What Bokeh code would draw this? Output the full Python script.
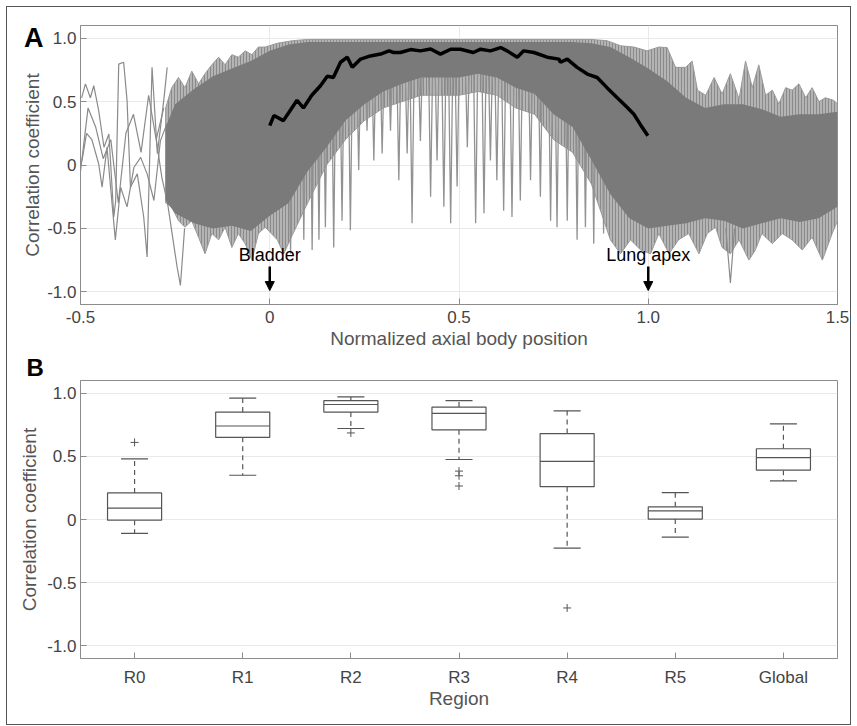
import numpy as np
from bokeh.plotting import figure
from bokeh.layouts import column
from bokeh.models import (Range1d, LinearAxis, Label, Arrow, NormalHead, FixedTicker,
                          ColumnDataSource, CustomJSTickFormatter, FactorRange)
from bokeh.transform import dodge
from bokeh.embed import file_html
from bokeh.resources import INLINE

FONT = "Liberation Sans"

# ---------------- Panel A data ----------------
env_x = [-0.275, -0.25, -0.2, -0.15, -0.1, -0.05, 0.0, 0.05, 0.1, 0.15, 0.2, 0.25, 0.3, 0.35, 0.4,
         0.45, 0.5, 0.55, 0.6, 0.65, 0.7, 0.75, 0.8, 0.85, 0.9, 0.95, 1.0, 1.05, 1.1, 1.15, 1.2,
         1.25, 1.3, 1.35, 1.4, 1.45, 1.5]
dense_top = [0.30, 0.48, 0.60, 0.70, 0.76, 0.82, 0.90, 0.95, 0.97, 0.97, 0.97, 0.97, 0.97, 0.97, 0.97,
             0.97, 0.97, 0.97, 0.97, 0.97, 0.97, 0.97, 0.97, 0.96, 0.93, 0.85, 0.76, 0.66, 0.53, 0.45,
             0.48, 0.48, 0.44, 0.38, 0.40, 0.40, 0.42]
dense_bot = [-0.28, -0.38, -0.46, -0.50, -0.48, -0.52, -0.40, -0.30, -0.05, 0.14, 0.35, 0.48, 0.58, 0.64, 0.69,
             0.69, 0.69, 0.72, 0.69, 0.61, 0.56, 0.40, 0.30, 0.04, -0.23, -0.42, -0.50, -0.48, -0.46, -0.42,
             -0.44, -0.50, -0.46, -0.42, -0.45, -0.42, -0.33]

fringe_top_x = [-0.275, -0.259, -0.241, -0.224, -0.206, -0.188, -0.171, -0.153, -0.135, -0.118, -0.10,
                -0.083, -0.065, -0.047, -0.03, -0.012, 0.02, 0.06, 0.1, 0.85, 0.891, 0.927, 0.962, 0.997,
                1.028, 1.05, 1.072, 1.099, 1.116, 1.13, 1.152, 1.174, 1.195, 1.217, 1.24, 1.257, 1.275,
                1.292, 1.31, 1.328, 1.345, 1.363, 1.38, 1.398, 1.416, 1.433, 1.451, 1.468, 1.49, 1.5]
fringe_top = [0.45, 0.61, 0.69, 0.61, 0.74, 0.64, 0.72, 0.79, 0.85, 0.79, 0.87, 0.85, 0.90, 0.87, 0.93,
              0.93, 0.96, 0.98, 0.99, 0.99, 0.98, 0.94, 0.93, 0.90, 0.93, 0.926, 0.77, 0.77, 0.82, 0.59,
              0.55, 0.69, 0.56, 0.72, 0.52, 0.82, 0.61, 0.79, 0.55, 0.59, 0.48, 0.61, 0.59, 0.64, 0.53,
              0.61, 0.50, 0.53, 0.51, 0.48]
fringe_bot_x = [-0.275, -0.259, -0.241, -0.224, -0.206, -0.188, -0.171, -0.153, -0.135, -0.118, -0.10,
                -0.083, -0.065, -0.047, -0.03, -0.012, 0.02, 0.037, 0.06, 0.1, 0.15, 0.2, 0.25, 0.3,
                0.35, 0.4, 0.45, 0.5, 0.55, 0.6, 0.65, 0.7, 0.75, 0.8, 0.85, 0.90, 0.927, 0.953, 0.98,
                1.006, 1.028, 1.055, 1.08, 1.107, 1.134, 1.156, 1.178, 1.195, 1.217, 1.24, 1.266, 1.283,
                1.30, 1.328, 1.354, 1.38, 1.407, 1.433, 1.46, 1.486, 1.5]
fringe_bot = [-0.30, -0.33, -0.44, -0.49, -0.44, -0.57, -0.70, -0.54, -0.59, -0.49, -0.65, -0.54, -0.62,
              -0.75, -0.54, -0.49, -0.59, -0.70, -0.55, -0.30, 0.0, 0.20, 0.35, 0.45, 0.50, 0.55, 0.55,
              0.55, 0.58, 0.55, 0.45, 0.40, 0.20, 0.10, -0.15, -0.59, -0.70, -0.59, -0.67, -0.70, -0.54,
              -0.70, -0.59, -0.54, -0.70, -0.54, -0.49, -0.65, -0.70, -0.59, -0.75, -0.67, -0.54, -0.62,
              -0.54, -0.59, -0.67, -0.57, -0.75, -0.54, -0.44]

spike_x = [0.055, 0.09, 0.112, 0.13, 0.147, 0.169, 0.191, 0.213, 0.235, 0.257, 0.275, 0.297, 0.319,
           0.341, 0.363, 0.376, 0.398, 0.425, 0.442, 0.46, 0.478, 0.495, 0.522, 0.544, 0.566, 0.583,
           0.60, 0.618, 0.64, 0.662, 0.689, 0.715, 0.742, 0.759, 0.786, 0.812, 0.834, 0.856, 0.882]
spike_bot = [-0.70, -0.59, -0.67, -0.59, -0.49, -0.65, -0.44, -0.515, -0.04, 0.27, 0.035, 0.09, 0.27,
             -0.12, 0.09, -0.46, 0.19, -0.25, 0.035, -0.33, -0.46, -0.17, 0.14, -0.46, -0.38, 0.035,
             -0.12, -0.36, -0.41, -0.28, -0.12, -0.25, -0.44, -0.49, -0.44, -0.59, -0.49, -0.62, -0.54]

sparse1_x = [-0.497, -0.487, -0.474, -0.465, -0.452, -0.438, -0.425, -0.412, -0.407, -0.399, -0.386,
             -0.377, -0.368, -0.35, -0.333, -0.324, -0.311, -0.297, -0.28, -0.271]
sparse1_y = [0.53, 0.64, 0.53, 0.625, 0.43, 0.14, 0.245, -0.41, -0.28, 0.795, 0.81, 0.51, -0.175,
             -0.07, -0.41, -0.725, 0.77, 0.09, 0.51, 0.77]
sparse2_x = [-0.496, -0.484, -0.47, -0.452, -0.443, -0.43, -0.408, -0.394, -0.377, -0.359, -0.341,
             -0.324, -0.306, -0.289, -0.271]
sparse2_y = [0.035, 0.25, 0.2, 0.01, -0.175, 0.14, -0.59, -0.175, -0.33, -0.02, 0.06, -0.07, -0.28,
             0.19, 0.33]
sparse3_x = [-0.30, -0.285, -0.27, -0.255, -0.245, -0.236, -0.225]
sparse3_y = [0.2, -0.1, -0.3, -0.6, -0.8, -0.95, -0.5]
sparse4_x = [-0.5, -0.48, -0.46, -0.44, -0.42, -0.40, -0.38, -0.36, -0.34, -0.32, -0.30, -0.28]
sparse4_y = [-0.05, 0.45, 0.30, 0.05, 0.20, -0.30, 0.25, 0.40, 0.10, 0.55, 0.20, 0.45]
sparse5_x = [1.205, 1.217, 1.228]
sparse5_y = [-0.50, -0.93, -0.50]

mean_x = [0.0, 0.011, 0.036, 0.054, 0.072, 0.089, 0.111, 0.134, 0.152, 0.168, 0.187, 0.205, 0.218,
          0.24, 0.266, 0.293, 0.315, 0.327, 0.345, 0.372, 0.398, 0.425, 0.451, 0.478, 0.504, 0.538,
          0.557, 0.583, 0.61, 0.627, 0.654, 0.671, 0.698, 0.733, 0.764, 0.768, 0.786, 0.812, 0.839,
          0.865, 0.891, 0.918, 0.944, 0.962, 0.979, 0.999]
mean_y = [0.31, 0.39, 0.35, 0.43, 0.51, 0.45, 0.55, 0.625, 0.70, 0.69, 0.81, 0.85, 0.77, 0.835, 0.86,
          0.875, 0.90, 0.887, 0.887, 0.91, 0.90, 0.915, 0.874, 0.913, 0.913, 0.887, 0.913, 0.90, 0.926,
          0.90, 0.85, 0.90, 0.887, 0.85, 0.835, 0.81, 0.835, 0.77, 0.717, 0.69, 0.61, 0.53, 0.455, 0.40,
          0.32, 0.23]

a_ticks = [-0.5, 0.0, 0.5, 1.0, 1.5]
y_ticks = [-1.0, -0.5, 0.0, 0.5, 1.0]
markers_x = [0.0, 1.0]
markers_txt = ["Bladder", "Lung apex"]

# ---------------- Panel B data ----------------
regions = ["R0", "R1", "R2", "R3", "R4", "R5", "Global"]
q1 = [-0.005, 0.65, 0.85, 0.71, 0.26, 0.003, 0.39]
med = [0.09, 0.74, 0.91, 0.84, 0.46, 0.068, 0.49]
q3 = [0.21, 0.85, 0.94, 0.89, 0.68, 0.10, 0.56]
wlo = [-0.11, 0.35, 0.72, 0.475, -0.226, -0.14, 0.305]
whi = [0.48, 0.96, 0.97, 0.94, 0.86, 0.213, 0.756]
out_region = ["R0", "R2", "R3", "R3", "R3", "R4"]
out_val = [0.61, 0.685, 0.383, 0.346, 0.265, -0.70]

GRID = "#e9e9e9"
AX = "#8c8c8c"
TXT = "#444444"
LBL = "#555555"
FW = 843

fmt = CustomJSTickFormatter(code="return Math.abs(tick) < 1e-9 ? '0' : tick.toFixed(1);")


def style_axes(p):
    for ax in p.axis:
        ax.axis_line_color = AX
        ax.major_tick_line_color = AX
        ax.major_tick_in = 6
        ax.major_tick_out = 0
        ax.minor_tick_line_color = None
        ax.major_label_text_font = FONT
        ax.major_label_text_font_size = "17px"
        ax.major_label_text_color = TXT
        ax.axis_label_text_font = FONT
        ax.axis_label_text_font_size = "19px"
        ax.axis_label_text_font_style = "normal"
        ax.axis_label_text_color = LBL
    p.outline_line_color = AX
    p.grid.grid_line_color = GRID


# ---------------- Panel A ----------------
p1 = figure(width=FW, height=344, x_range=Range1d(-0.5, 1.5), y_range=Range1d(-1.1, 1.1),
            output_backend="svg", toolbar_location=None,
            min_border_left=73, min_border_right=13, min_border_top=18, min_border_bottom=40)
p1.patch(x=fringe_top_x + fringe_bot_x[::-1], y=fringe_top + fringe_bot[::-1],
         fill_color="#b4b4b4", line_color="#9a9a9a", line_width=1,
         hatch_pattern="vertical_line", hatch_color="#8a8a8a", hatch_scale=3, hatch_weight=1)
p1.multi_line(xs=[[x - 0.006, x, x + 0.006] for x in spike_x],
              ys=[[0.9, b, 0.9] for b in spike_bot], line_color="#929292", line_width=1.3)
for sx, sy in [(sparse1_x, sparse1_y), (sparse2_x, sparse2_y), (sparse3_x, sparse3_y),
               (sparse4_x, sparse4_y), (sparse5_x, sparse5_y)]:
    p1.line(sx, sy, line_color="#8a8a8a", line_width=1.2)
p1.varea(x=env_x, y1=dense_bot, y2=dense_top, fill_color="#7a7a7a")
p1.line(mean_x, mean_y, line_color="black", line_width=3.5)

for mx, mt in zip(markers_x, markers_txt):
    p1.add_layout(Label(x=mx, y=-0.71, text=mt, text_align="center", text_baseline="middle",
                        text_font=FONT, text_font_size="18px", text_color="black"))
    p1.add_layout(Arrow(end=NormalHead(size=9, fill_color="black", line_color="black"),
                        x_start=mx, y_start=-0.80, x_end=mx, y_end=-0.99,
                        line_color="black", line_width=2.5))

p1.xaxis.ticker = a_ticks
p1.xaxis.formatter = fmt
p1.yaxis.ticker = y_ticks
p1.yaxis.formatter = fmt
p1.xaxis.axis_label = "Normalized axial body position"
p1.xaxis.major_label_standoff = 6
p1.xaxis.axis_label_standoff = 2
p1.yaxis.major_label_standoff = 4
# outer left axis carrying the panel letter and the axis title
la = LinearAxis(ticker=FixedTicker(ticks=[1.0]),
                formatter=CustomJSTickFormatter(code="return 'A';"),
                axis_label="Correlation coefficient")
p1.add_layout(la, "left")
style_axes(p1)
la.axis_line_color = None
la.major_tick_line_color = None
la.major_label_standoff = 1
la.major_label_text_font_size = "27px"
la.major_label_text_font_style = "bold"
la.major_label_text_color = "black"
la.axis_label_standoff = -22

# ---------------- Panel B ----------------
p2 = figure(width=FW, height=373, x_range=FactorRange(*regions), y_range=Range1d(-1.1, 1.1),
            output_backend="svg", toolbar_location=None, title="B",
            min_border_left=73, min_border_right=13, min_border_top=24, min_border_bottom=66)
p2.title.text_font = FONT
p2.title.text_font_size = "24px"
p2.title.text_font_style = "bold"
p2.title.text_color = "black"
p2.title.align = "left"
p2.title.offset = -54
p2.title.standoff = 0
src = ColumnDataSource(dict(region=regions, q1=q1, med=med, q3=q3, wlo=wlo, whi=whi))
BOX = "#555555"
p2.segment(x0="region", y0="q3", x1="region", y1="whi", source=src, line_color=BOX,
           line_width=1.2, line_dash="5 4")
p2.segment(x0="region", y0="q1", x1="region", y1="wlo", source=src, line_color=BOX,
           line_width=1.2, line_dash="5 4")
p2.vbar(x="region", width=0.5, bottom="q1", top="q3", source=src, fill_color="white",
        line_color=BOX, line_width=1.2)
p2.segment(x0=dodge("region", -0.25, range=p2.x_range), y0="med",
           x1=dodge("region", 0.25, range=p2.x_range), y1="med", source=src,
           line_color=BOX, line_width=1.2)
for col in ["whi", "wlo"]:
    p2.segment(x0=dodge("region", -0.125, range=p2.x_range), y0=col,
               x1=dodge("region", 0.125, range=p2.x_range), y1=col, source=src,
               line_color=BOX, line_width=1.2)
p2.scatter(x=out_region, y=out_val, marker="cross", size=8, line_color=BOX, line_width=1)

p2.yaxis.ticker = y_ticks
p2.yaxis.formatter = fmt
p2.xaxis.axis_label = "Region"
p2.yaxis.axis_label = "Correlation coefficient"
p2.xaxis.major_label_standoff = 9
p2.xaxis.axis_label_standoff = -2
p2.yaxis.major_label_standoff = 4
p2.yaxis.axis_label_standoff = 4
style_axes(p2)
p2.xgrid.grid_line_color = None

layout = column(p1, p2, spacing=0, styles={"border": "1px solid #555555", "margin": "6px 0 0 6px"})
open("out.html", "w").write(file_html(layout, INLINE))
